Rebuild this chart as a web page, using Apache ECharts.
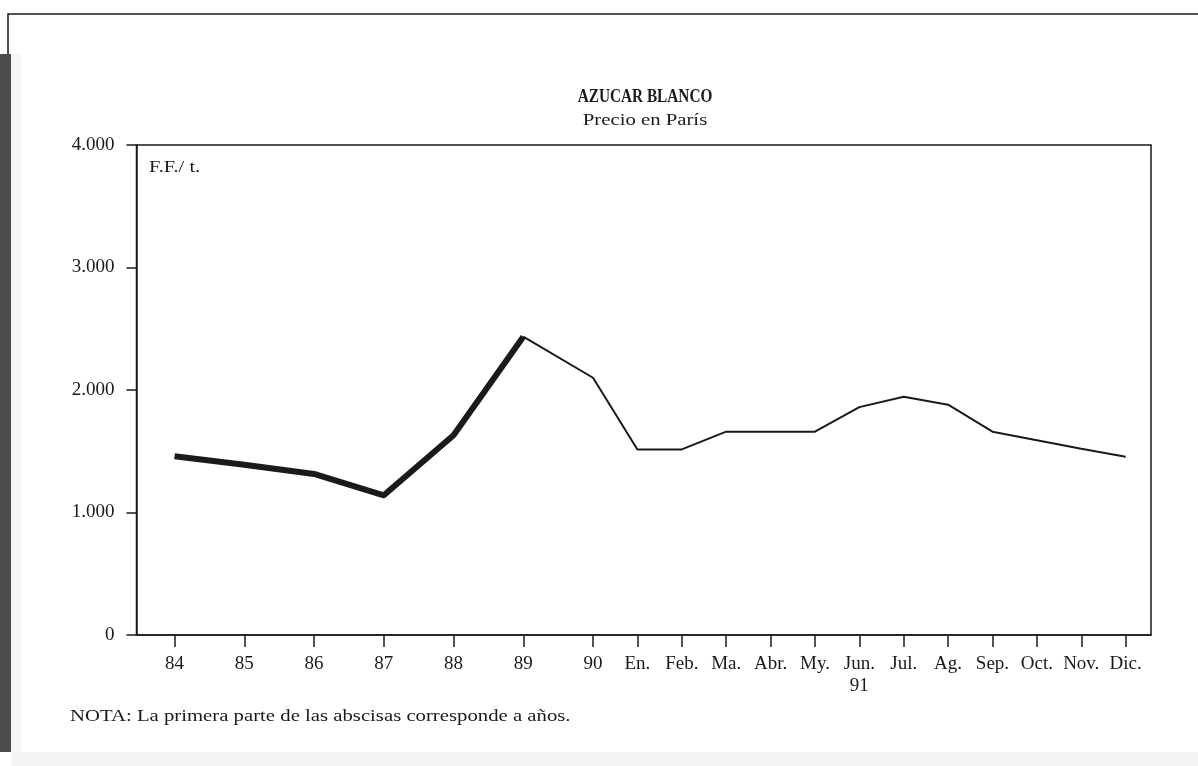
<!DOCTYPE html>
<html>
<head>
<meta charset="utf-8">
<script src="https://cdn.jsdelivr.net/npm/echarts@6/dist/echarts.min.js"></script>
<style>
html,body{margin:0;padding:0;background:#fff;}
#c{width:1198px;height:766px;}
</style>
</head>
<body>
<div id="c"></div>
<script>
// ---- data ----
const categories = ['84','85','86','87','88','89','90','En.','Feb.','Ma.','Abr.','My.','Jun.','Jul.','Ag.','Sep.','Oct.','Nov.','Dic.'];
const values = [1460, 1390, 1315, 1140, 1630, 2435, 2100, 1515, 1515, 1660, 1660, 1660, 1860, 1945, 1880, 1660, 1590, 1520, 1455];
const yearCount = 7;          // first 7 categories are years
const thickEnd = 5;           // thick line covers 84..89
const titleText = 'AZUCAR BLANCO';
const subtitleText = 'Precio en París';
const unitText = 'F.F./ t.';
const yearNote = '91';
const noteText = 'NOTA: La primera parte de las abscisas corresponde a años.';

// ---- axis units: years take a wider step than months ----
const xs = [];
let u = 0;
categories.forEach((c, i) => { if (i > 0) u += (i < yearCount ? 11 : 7); xs.push(u); });
const labelOf = {};
xs.forEach((x, i) => { labelOf[x] = categories[i]; });

const thick = [], thin = [];
values.forEach((v, i) => {
  if (i <= thickEnd) thick.push([xs[i], v]);
  if (i >= thickEnd) thin.push([xs[i], v]);
});

const FONT = '"Liberation Serif", "Times New Roman", serif';
const INK = '#1a1a1a';

const chart = echarts.init(document.getElementById('c'), null, {renderer: 'canvas'});
chart.setOption({
  backgroundColor: '#fff',
  animation: false,
  grid: {left: 136.5, right: 47, top: 145, bottom: 131, show: true, borderColor: INK, borderWidth: 1.5, containLabel: false},
  xAxis: {
    type: 'value', min: -6, max: 154,
    splitLine: {show: false},
    axisLine: {show: true, onZero: false, lineStyle: {color: INK, width: 1.5}},
    axisTick: {show: true, customValues: xs, length: 12, lineStyle: {color: INK, width: 1.5}},
    axisLabel: {
      customValues: xs, margin: 18, color: INK, fontFamily: FONT, fontSize: 19, lineHeight: 22,
      formatter: v => { const l = labelOf[v]; return l === 'Jun.' ? l + '\n' + yearNote : (l || ''); }
    }
  },
  yAxis: {
    type: 'value', min: 0, max: 4000, interval: 1000,
    splitLine: {show: false},
    axisLine: {show: true, onZero: false, lineStyle: {color: INK, width: 1.5}},
    axisTick: {show: true, length: 10, lineStyle: {color: INK, width: 1.5}},
    axisLabel: {
      margin: 22, color: INK, fontFamily: FONT, fontSize: 19,
      formatter: v => v === 0 ? '0' : (v / 1000) + '.000'
    }
  },
  series: [
    {type: 'line', data: thick, symbol: 'none', lineStyle: {color: INK, width: 6, join: 'round'}, z: 3},
    {type: 'line', data: thin, symbol: 'none', lineStyle: {color: INK, width: 2}, z: 2}
  ],
  graphic: [
    {type: 'rect', shape: {x: 0, y: 54, width: 11, height: 698}, style: {fill: '#4d4d4d'}, silent: true},
    {type: 'rect', shape: {x: 11, y: 54, width: 10, height: 698}, style: {fill: '#f6f6f6'}, silent: true},
    {type: 'rect', shape: {x: 11, y: 752, width: 1187, height: 14}, style: {fill: '#f4f4f4'}, silent: true},
    {type: 'polyline', shape: {points: [[8, 54], [8, 14], [1198, 14]]}, style: {stroke: INK, lineWidth: 1.5, fill: null}, silent: true},
    {type: 'text', x: 645, y: 97, scaleX: 0.85, style: {text: titleText, font: 'bold 18px ' + FONT, fill: INK, align: 'center', verticalAlign: 'middle'}},
    {type: 'text', x: 645, y: 121, scaleX: 1.22, style: {text: subtitleText, font: '17px ' + FONT, fill: INK, align: 'center', verticalAlign: 'middle'}},
    {type: 'text', x: 149, y: 168, scaleX: 1.2, style: {text: unitText, font: '17px ' + FONT, fill: INK, align: 'left', verticalAlign: 'middle'}},
    {type: 'text', x: 70, y: 717, scaleX: 1.22, style: {text: noteText, font: '17px ' + FONT, fill: INK, align: 'left', verticalAlign: 'middle'}}
  ]
});
</script>
</body>
</html>
